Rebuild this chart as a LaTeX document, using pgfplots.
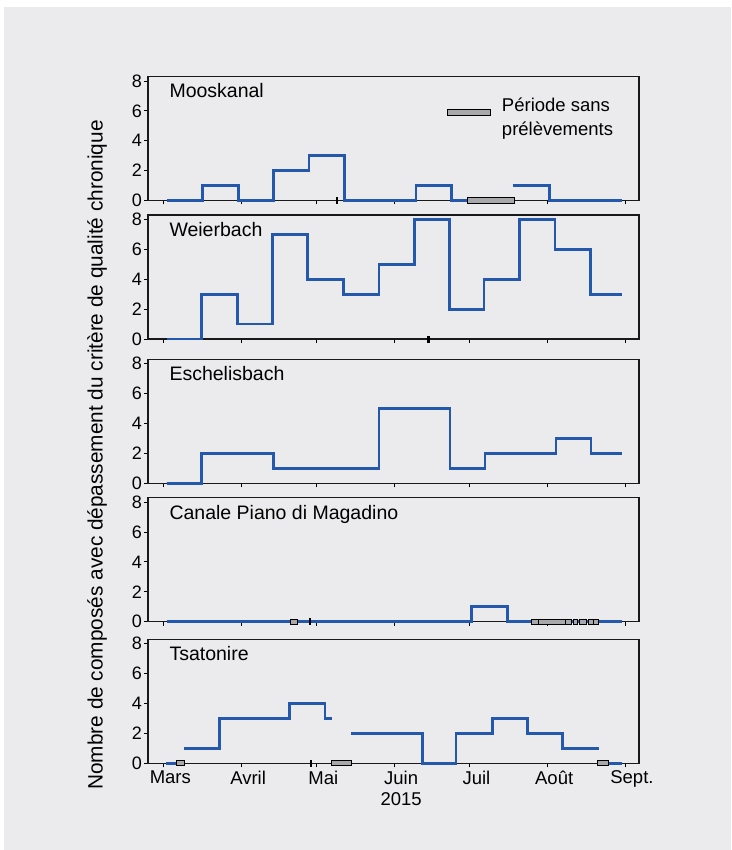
\documentclass[border=0pt]{standalone}
\usepackage{fontspec}
\setmainfont{Liberation Sans}
\usepackage{pgfplots}
\pgfplotsset{compat=1.18}
\definecolor{bg}{RGB}{235,235,237}
\definecolor{ln}{RGB}{36,88,172}
\definecolor{gapfill}{RGB}{168,168,170}
\newcommand{\titlefont}{\fontsize{19.5}{21}\selectfont}
\newcommand{\legfont}{\fontsize{18.5}{23.4}\selectfont}
\newcommand{\frameit}{\draw[line width=1.2pt, black!90] (rel axis cs:0,0) rectangle (rel axis cs:1,1);}
\pgfplotsset{
  panel/.style={
    scale only axis, width=491pt, height=124pt,
    xmin=-6.1, xmax=189.6, ymin=0, ymax=8.3,
    axis line style={draw=none},
    xtick={0,31,61,92,122,153,184}, xticklabels={},
    ytick={0,2,4,6,8},
    tick align=outside, tick pos=left,
    major tick length=4pt,
    tick style={line width=0.9pt, black},
    /pgf/number format/assume math mode=true,
    yticklabel style={font=\fontsize{18}{18}\selectfont, inner sep=2pt},
    clip=false,
    anchor=north west,
  },
  stepline/.style={const plot, no marks, line width=2.8pt, color=ln},
  gapbox/.style={fill=gapfill, draw=black, line width=0.9pt, no marks},
  tinybox/.style={fill=black, draw=black, line width=0.6pt, no marks},
}
\begin{document}
\begin{tikzpicture}
\fill[bg] (4pt,0pt) rectangle (731pt,843pt);
\path[use as bounding box] (0pt,0pt) rectangle (731pt,850pt);

% Mooskanal
\begin{axis}[panel, at={(148pt,773.5pt)}]
\frameit
\addplot[stepline] coordinates {(1.36,0)(15.54,1)(29.89,0)(43.84,2)(58.07,3)(72.30,0)(100.71,1)(114.94,0)(121.16,0)};
\addplot[stepline] coordinates {(139.25,1)(153.84,0)(182.93,0)};
\addplot[gapbox] coordinates {(121.16,-0.17)(139.77,-0.17)(139.77,0.17)(121.16,0.17)} -- cycle;
\addplot[tinybox] coordinates {(68.8,-0.2)(69.4,-0.2)(69.4,0.2)(68.8,0.2)} -- cycle;
\addplot[gapbox] coordinates {(113.2,5.66)(130.5,5.66)(130.5,6.10)(113.2,6.10)} -- cycle;
\node[anchor=base west, font=\titlefont, inner sep=0pt] at (rel axis cs:0.0434,0.827) {Mooskanal};
\node[anchor=west, align=left, font=\legfont, inner sep=0pt] at (axis cs:134.9,5.49) {Période sans\\prélèvements};
\end{axis}

% Weierbach
\begin{axis}[panel, at={(148pt,635pt)}]
\frameit
\addplot[stepline] coordinates {(1.36,0)(15.30,3)(29.65,1)(43.60,7)(57.55,4)(71.74,3)(85.97,5)(100.03,8)(113.98,2)(127.81,4)(141.88,8)(156.11,6)(170.33,3)(182.93,3)};
\addplot[tinybox] coordinates {(105.3,-0.2)(105.9,-0.2)(105.9,0.2)(105.3,0.2)} -- cycle;
\node[anchor=base west, font=\titlefont, inner sep=0pt] at (rel axis cs:0.0434,0.827) {Weierbach};
\end{axis}

% Eschelisbach
\begin{axis}[panel, at={(148pt,490.7pt)}]
\frameit
\addplot[stepline] coordinates {(1.36,0)(15.30,2)(43.84,1)(85.97,5)(114.26,1)(128.21,2)(156.51,3)(170.46,2)(182.93,2)};
\node[anchor=base west, font=\titlefont, inner sep=0pt] at (rel axis cs:0.0434,0.827) {Eschelisbach};
\end{axis}

% Canale Piano di Magadino
\begin{axis}[panel, at={(148pt,352.3pt)}]
\frameit
\addplot[stepline] coordinates {(1.36,0)(122.91,1)(137.10,0)(182.93,0)};
\addplot[gapbox] coordinates {(50.77,-0.17)(53.40,-0.17)(53.40,0.17)(50.77,0.17)} -- cycle;
\addplot[tinybox] coordinates {(58.1,-0.2)(58.7,-0.2)(58.7,0.2)(58.1,0.2)} -- cycle;
\addplot[gapbox] coordinates {(146.82,-0.17)(149.45,-0.17)(149.45,0.17)(146.82,0.17)} -- cycle;
\addplot[gapbox] coordinates {(149.45,-0.17)(160.09,-0.17)(160.09,0.17)(149.45,0.17)} -- cycle;
\addplot[gapbox] coordinates {(160.09,-0.17)(162.76,-0.17)(162.76,0.17)(160.09,0.17)} -- cycle;
\addplot[gapbox] coordinates {(163.28,-0.17)(164.87,-0.17)(164.87,0.17)(163.28,0.17)} -- cycle;
\addplot[gapbox] coordinates {(165.79,-0.17)(168.46,-0.17)(168.46,0.17)(165.79,0.17)} -- cycle;
\addplot[gapbox] coordinates {(169.38,-0.17)(171.37,-0.17)(171.37,0.17)(169.38,0.17)} -- cycle;
\addplot[gapbox] coordinates {(171.37,-0.17)(173.24,-0.17)(173.24,0.17)(171.37,0.17)} -- cycle;
\node[anchor=base west, font=\titlefont, inner sep=0pt] at (rel axis cs:0.0434,0.827) {Canale Piano di Magadino};
\end{axis}

% Tsatonire
\begin{axis}[panel, at={(148pt,210.7pt)},
  xticklabels={Mars,Avril,Mai,{Juin\\2015},Juil,Août,Sept.},
  xticklabel style={font=\fontsize{18.5}{21}\selectfont, align=center, xshift=7pt}]
\frameit
\addplot[stepline] coordinates {(1.08,0)(5.06,0)};
\addplot[stepline] coordinates {(8.37,1)(22.32,3)(50.22,4)(64.44,3)(67.35,3)};
\addplot[stepline] coordinates {(74.81,2)(103.38,0)(116.65,2)(131.28,3)(145.23,2)(159.18,1)(173.64,1)};
\addplot[stepline] coordinates {(177.35,0)(182.93,0)};
\addplot[gapbox] coordinates {(5.06,-0.17)(8.37,-0.17)(8.37,0.17)(5.06,0.17)} -- cycle;
\addplot[tinybox] coordinates {(58.4,-0.2)(59.0,-0.2)(59.0,0.2)(58.4,0.2)} -- cycle;
\addplot[gapbox] coordinates {(67.11,-0.17)(75.08,-0.17)(75.08,0.17)(67.11,0.17)} -- cycle;
\addplot[gapbox] coordinates {(173.12,-0.17)(177.35,-0.17)(177.35,0.17)(173.12,0.17)} -- cycle;
\node[anchor=base west, font=\titlefont, inner sep=0pt] at (rel axis cs:0.0434,0.827) {Tsatonire};
\end{axis}

\node[rotate=90, font=\fontsize{20.8}{22}\selectfont] at (97pt,395pt) {Nombre de composés avec dépassement du critère de qualité chronique};
\end{tikzpicture}
\end{document}
